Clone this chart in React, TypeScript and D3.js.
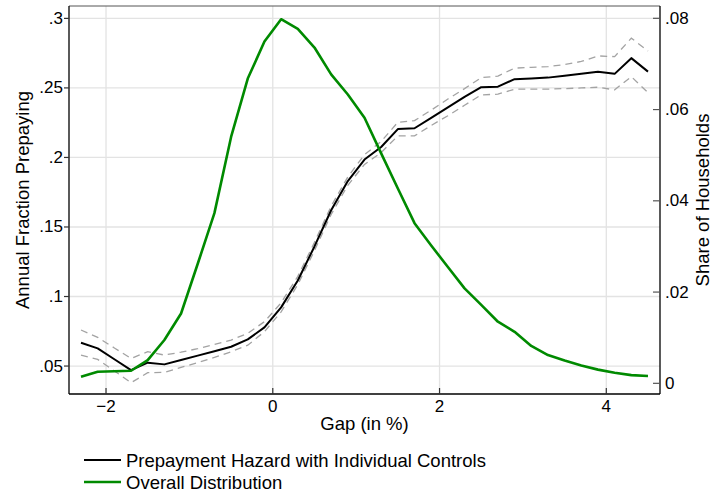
import React from "react";
import * as d3 from "d3";

const gap = [-2.3,-2.1,-1.9,-1.7,-1.5,-1.3,-1.1,-0.9,-0.7,-0.5,-0.3,-0.1,0.1,0.3,0.5,0.7,0.9,1.1,1.3,1.5,1.7,1.9,2.1,2.3,2.5,2.7,2.9,3.1,3.3,3.5,3.7,3.9,4.1,4.3,4.5];

const hazard = [0.0668,0.0627,0.0549,0.0471,0.0524,0.0512,0.0543,0.0575,0.0607,0.0639,0.0692,0.0778,0.0922,0.1115,0.136,0.162,0.183,0.1985,0.2075,0.2204,0.221,0.2285,0.236,0.2435,0.2505,0.2509,0.2563,0.2568,0.2574,0.2588,0.2602,0.2617,0.2601,0.2714,0.2617];

const hazardUpper = [0.0759,0.0706,0.063,0.0555,0.0603,0.0579,0.06,0.0625,0.0655,0.0687,0.0735,0.0819,0.0955,0.1145,0.139,0.165,0.186,0.202,0.2115,0.2253,0.2265,0.234,0.242,0.2495,0.2574,0.2585,0.2642,0.2648,0.2653,0.2668,0.269,0.273,0.2725,0.2858,0.2766];

const hazardLower = [0.0579,0.0548,0.0465,0.038,0.0452,0.0455,0.049,0.0525,0.0562,0.0603,0.065,0.0747,0.089,0.1085,0.133,0.159,0.18,0.195,0.2035,0.2155,0.2155,0.223,0.23,0.2375,0.245,0.2455,0.2491,0.2491,0.2491,0.2495,0.25,0.2505,0.2486,0.2581,0.2466];

const share = [0.00145,0.00254,0.00265,0.00276,0.0051,0.0095,0.0153,0.0262,0.0373,0.054,0.0668,0.0749,0.0798,0.0777,0.0736,0.0677,0.0633,0.0582,0.0504,0.0427,0.0351,0.0302,0.0255,0.0208,0.0172,0.0135,0.0113,0.0082,0.0062,0.005,0.0039,0.003,0.0023,0.0018,0.0016];

const xTicks = [-2, 0, 2, 4];
const xTickLabels = ["\u22122", "0", "2", "4"];
const leftTicks = [0.05, 0.1, 0.15, 0.2, 0.25, 0.3];
const leftTickLabels = [".05", ".1", ".15", ".2", ".25", ".3"];
const rightTicks = [0, 0.02, 0.04, 0.06, 0.08];
const rightTickLabels = ["0", ".02", ".04", ".06", ".08"];

const seriesNames = ["Prepayment Hazard with Individual Controls", "Overall Distribution"];

const FONT = "'Liberation Sans', Arial, Helvetica, sans-serif";

export default function App() {
  const L = 69, R = 660, T = 6, B = 394;
  const x = d3.scaleLinear().domain([-2.444, 4.644]).range([L, R]);
  const yL = d3.scaleLinear().domain([0.0299, 0.3089]).range([B, T]);
  const yR = d3.scaleLinear().domain([-0.00234, 0.0827]).range([B, T]);

  const lineL = (vals: number[]) =>
    d3.line<number>().x((_, i) => x(gap[i])).y((v) => yL(v))(vals) || "";
  const lineR = (vals: number[]) =>
    d3.line<number>().x((_, i) => x(gap[i])).y((v) => yR(v))(vals) || "";

  const green = "#008a00";

  return (
    <svg width={712} height={493} style={{ position: "absolute", left: 0, top: 0, background: "#fff" }} fontFamily={FONT}>
      <rect x={0} y={0} width={712} height={493} fill="#fff" />
      {/* gridlines */}
      {leftTicks.map((t) => (
        <line key={"gy" + t} x1={L} x2={R} y1={yL(t)} y2={yL(t)} stroke="#e3e3e3" strokeWidth={1.3} />
      ))}
      {xTicks.map((t) => (
        <line key={"gx" + t} x1={x(t)} x2={x(t)} y1={T} y2={B} stroke="#e3e3e3" strokeWidth={1.3} />
      ))}
      {/* CI */}
      <path d={lineL(hazardUpper)} fill="none" stroke="#a3a3a3" strokeWidth={1.3} strokeDasharray="7,5" />
      <path d={lineL(hazardLower)} fill="none" stroke="#a3a3a3" strokeWidth={1.3} strokeDasharray="7,5" />
      <path d={lineL(hazard)} fill="none" stroke="#000" strokeWidth={2} strokeLinejoin="round" />
      <path d={lineR(share)} fill="none" stroke={green} strokeWidth={2.6} strokeLinejoin="round" />
      {/* frame */}
      <line x1={L} x2={R} y1={T} y2={T} stroke="#555" strokeWidth={1} />
      <line x1={L} x2={L} y1={T} y2={B} stroke="#000" strokeWidth={1.3} />
      <line x1={R} x2={R} y1={T} y2={B} stroke="#000" strokeWidth={1.3} />
      <line x1={L} x2={R} y1={B} y2={B} stroke="#000" strokeWidth={1.3} />
      {/* left ticks */}
      {leftTicks.map((t, i) => (
        <g key={"lt" + t}>
          <line x1={L - 5} x2={L} y1={yL(t)} y2={yL(t)} stroke="#333" strokeWidth={1.2} />
          <text x={L - 6} y={yL(t)} textAnchor="end" dominantBaseline="central" fontSize={17}>{leftTickLabels[i]}</text>
        </g>
      ))}
      {/* right ticks */}
      {rightTicks.map((t, i) => (
        <g key={"rt" + t}>
          <line x1={R - 7} x2={R} y1={yR(t)} y2={yR(t)} stroke="#555" strokeWidth={1.2} />
          <text x={R + 5} y={yR(t)} textAnchor="start" dominantBaseline="central" fontSize={17}>{rightTickLabels[i]}</text>
        </g>
      ))}
      {/* x ticks */}
      {xTicks.map((t, i) => (
        <g key={"xt" + t}>
          <line x1={x(t)} x2={x(t)} y1={B - 6} y2={B} stroke="#333" strokeWidth={1.2} />
          <text x={x(t)} y={412} textAnchor="middle" fontSize={17}>{xTickLabels[i]}</text>
        </g>
      ))}
      {/* titles */}
      <text x={(L + R) / 2} y={430} textAnchor="middle" fontSize={18.5}>Gap (in %)</text>
      <text transform={`translate(22,${(T + B) / 2}) rotate(-90)`} textAnchor="middle" dominantBaseline="central" fontSize={18.5}>Annual Fraction Prepaying</text>
      <text transform={`translate(702,${(T + B) / 2}) rotate(-90)`} textAnchor="middle" dominantBaseline="central" fontSize={18.5}>Share of Households</text>
      {/* legend */}
      <line x1={84} x2={121} y1={460} y2={460} stroke="#000" strokeWidth={2} />
      <text x={126} y={466.5} fontSize={18.5}>{seriesNames[0]}</text>
      <line x1={84} x2={121} y1={482} y2={482} stroke={green} strokeWidth={2.6} />
      <text x={126} y={488.5} fontSize={18.5}>{seriesNames[1]}</text>
    </svg>
  );
}
